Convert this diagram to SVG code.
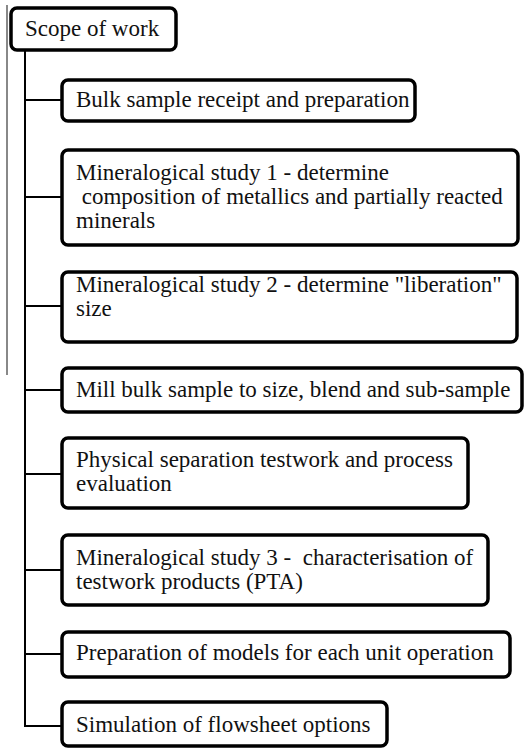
<svg xmlns="http://www.w3.org/2000/svg" width="531" height="748" viewBox="0 0 531 748">
<style>
.box{fill:#fff;stroke:#000;stroke-width:3.5}
.t{font-family:'Liberation Serif','Times New Roman','DejaVu Serif',serif;font-size:23px;fill:#111;white-space:pre}
.c{fill:none;stroke:#000;stroke-width:2}
</style>
<rect width="531" height="748" fill="#fff"/>
<line x1="7" y1="5" x2="7" y2="375" stroke="#888" stroke-width="2"/>
<g id="connectors" class="c">
<path d="M25 50 V726 H62"/>
<path d="M25 100 H62"/>
<path d="M25 197 H62"/>
<path d="M25 306 H62"/>
<path d="M25 390 H62"/>
<path d="M25 474 H62"/>
<path d="M25 570 H62"/>
<path d="M25 654 H62"/>
</g>
<g id="scope"><rect class="box" x="11" y="8" width="165" height="42" rx="6"/><text class="t" x="25" y="36">Scope of work</text></g>
<g id="bulk"><rect class="box" x="62" y="80" width="353" height="41" rx="6"/><text class="t" x="76" y="107">Bulk sample receipt and preparation</text></g>
<g id="min1"><rect class="box" x="62" y="150" width="456" height="95" rx="6"/><text class="t" x="76" y="180">Mineralogical study 1 - determine</text><text class="t" x="76" y="204" xml:space="preserve"> composition of metallics and partially reacted</text><text class="t" x="76" y="228">minerals</text></g>
<g id="min2"><rect class="box" x="62" y="272" width="455" height="70" rx="6"/><text class="t" x="76" y="292">Mineralogical study 2 - determine "liberation"</text><text class="t" x="76" y="316">size</text></g>
<g id="mill"><rect class="box" x="62" y="368" width="460" height="44" rx="6"/><text class="t" x="76" y="397">Mill bulk sample to size, blend and sub-sample</text></g>
<g id="phys"><rect class="box" x="62" y="438" width="406" height="70" rx="6"/><text class="t" x="76" y="467">Physical separation testwork and process</text><text class="t" x="76" y="491">evaluation</text></g>
<g id="min3"><rect class="box" x="62" y="535" width="426" height="70" rx="6"/><text class="t" x="76" y="565" xml:space="preserve">Mineralogical study 3 -  characterisation of</text><text class="t" x="76" y="589">testwork products (PTA)</text></g>
<g id="prep"><rect class="box" x="62" y="632" width="448" height="45" rx="6"/><text class="t" x="76" y="660">Preparation of models for each unit operation</text></g>
<g id="sim"><rect class="box" x="62" y="702" width="325" height="44" rx="6"/><text class="t" x="76" y="732">Simulation of flowsheet options</text></g>
</svg>
